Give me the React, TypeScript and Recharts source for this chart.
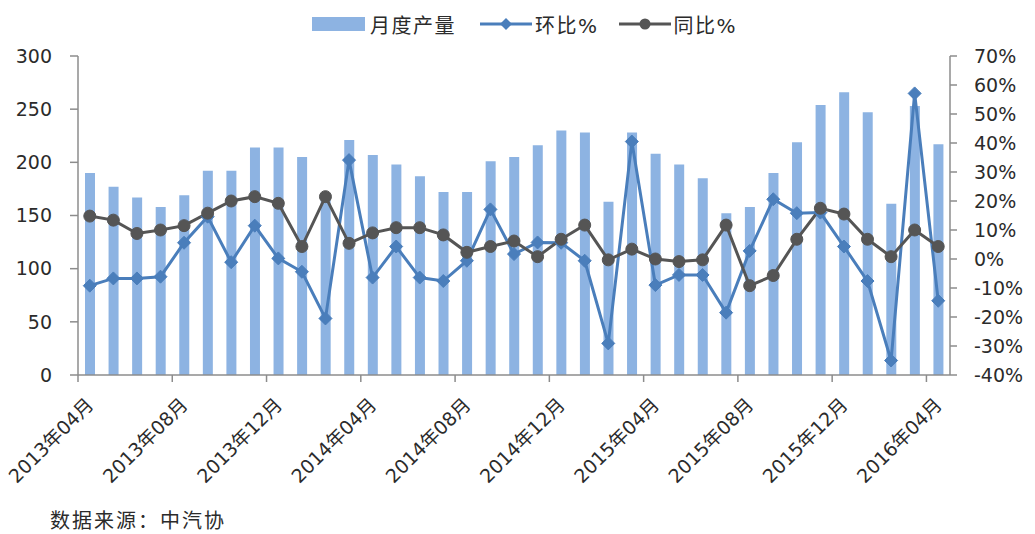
import { Bar, ComposedChart, Line, XAxis, YAxis } from "recharts";

const months = [
  "2013年04月", "2013年05月", "2013年06月", "2013年07月", "2013年08月", "2013年09月",
  "2013年10月", "2013年11月", "2013年12月", "2014年01月", "2014年02月", "2014年03月",
  "2014年04月", "2014年05月", "2014年06月", "2014年07月", "2014年08月", "2014年09月",
  "2014年10月", "2014年11月", "2014年12月", "2015年01月", "2015年02月", "2015年03月",
  "2015年04月", "2015年05月", "2015年06月", "2015年07月", "2015年08月", "2015年09月",
  "2015年10月", "2015年11月", "2015年12月", "2016年01月", "2016年02月", "2016年03月",
  "2016年04月",
];

// 月度产量 (万辆)
const output = [
  190, 177, 167, 158, 169, 192, 192, 214, 214, 205, 165, 221,
  207, 198, 187, 172, 172, 201, 205, 216, 230, 228, 163, 228,
  208, 198, 185, 152, 158, 190, 219, 254, 266, 247, 161, 253,
  217,
];

// 环比%
const mom = [
  -9.2, -6.7, -6.7, -6.1, 5.6, 14.6, -1.1, 11.5, 0.2, -4.4, -20.5, 34.1,
  -6.4, 4.3, -6.4, -7.6, -0.6, 17.1, 1.7, 5.7, 5.6, -0.6, -29.1, 40.5,
  -9.0, -5.5, -5.5, -18.5, 2.8, 20.6, 15.8, 16.0, 4.3, -7.6, -35.0, 57.1,
  -14.4,
];

// 同比%
const yoy = [
  14.8, 13.4, 8.8, 10.0, 11.5, 15.8, 20.0, 21.5, 19.2, 4.3, 21.5, 5.4,
  9.0, 10.8, 10.8, 8.3, 2.3, 4.3, 6.2, 0.8, 6.8, 11.7, -0.3, 3.4,
  0.0, -0.9, -0.3, 11.7, -9.2, -5.7, 6.8, 17.5, 15.5, 6.8, 0.8, 10.0,
  4.3,
];

const leftTicks = [0, 50, 100, 150, 200, 250, 300];
const rightTicks = [-40, -30, -20, -10, 0, 10, 20, 30, 40, 50, 60, 70];

const data = months.map((m, i) => ({ month: m, output: output[i], mom: mom[i], yoy: yoy[i] }));

const FONT = '"DejaVu Sans", "Noto Sans CJK SC", sans-serif';
const TEXT = "#2b2b2b";
const AXIS = "#8c8c8c";
const BAR = "#8db3e2";
const BLUE = "#4a7ebb";
const GREY = "#555555";

const PLOT_LEFT = 78;
const PLOT_RIGHT = 950;
const BAND = (PLOT_RIGHT - PLOT_LEFT) / months.length;

const XTick = (props: any) => {
  const { x, y, payload } = props;
  const bx = x - BAND / 2;
  return (
    <g>
      <line x1={bx} x2={bx} y1={y - 8} y2={y - 1} stroke={AXIS} strokeWidth={1.5} />
      <text
        transform={`translate(${x + 5},${y + 23}) rotate(-45)`}
        textAnchor="end"
        fontSize={19}
        fill={TEXT}
        fontFamily={FONT}
      >
        {payload.value}
      </text>
    </g>
  );
};

const Diamond = (props: any) => {
  const { cx, cy } = props;
  if (cx == null || cy == null) return null;
  const s = 6.5;
  return (
    <polygon
      points={`${cx},${cy - s} ${cx + s},${cy} ${cx},${cy + s} ${cx - s},${cy}`}
      fill={BLUE}
      stroke={BLUE}
    />
  );
};

const Dot = (props: any) => {
  const { cx, cy } = props;
  if (cx == null || cy == null) return null;
  return <circle cx={cx} cy={cy} r={6} fill={GREY} stroke={GREY} />;
};

export default function App() {
  return (
    <div
      style={{
        position: "absolute",
        left: 0,
        top: 0,
        width: 1035,
        height: 534,
        background: "#fff",
        fontFamily: FONT,
        color: TEXT,
      }}
    >
      {/* legend */}
      <div
        style={{
          position: "absolute",
          top: 12,
          left: 312,
          height: 24,
          display: "flex",
          alignItems: "center",
          fontSize: 20,
          letterSpacing: 1.5,
        }}
      >
        <span style={{ display: "inline-block", width: 53, height: 14, background: BAR, marginRight: 5 }} />
        <span>月度产量</span>
        <svg width={52} height={16} style={{ marginLeft: 24 }}>
          <line x1={0} x2={52} y1={8} y2={8} stroke={BLUE} strokeWidth={3} />
          <polygon points="26,2 32,8 26,14 20,8" fill={BLUE} />
        </svg>
        <span style={{ marginLeft: 3 }}>环比%</span>
        <svg width={52} height={16} style={{ marginLeft: 20 }}>
          <line x1={0} x2={52} y1={8} y2={8} stroke={GREY} strokeWidth={3} />
          <circle cx={26} cy={8} r={5.5} fill={GREY} />
        </svg>
        <span style={{ marginLeft: 3 }}>同比%</span>
      </div>

      <ComposedChart
        width={1035}
        height={534}
        data={data}
        margin={{ top: 56, right: 0, bottom: 49, left: 0 }}
        barCategoryGap={0}
      >
        <XAxis
          dataKey="month"
          interval={3}
          height={110}
          tickLine={false}
          tickSize={6}
          tick={<XTick />}
          stroke={AXIS}
          strokeWidth={1.5}
        />
        <YAxis
          yAxisId="left"
          orientation="left"
          width={78}
          domain={[0, 300]}
          ticks={leftTicks}
          tickSize={8}
          tickMargin={18}
          stroke={AXIS}
          strokeWidth={1.5}
          tick={{ fontSize: 19, fill: TEXT, fontFamily: FONT }}
          interval={0}
        />
        <YAxis
          yAxisId="right"
          orientation="right"
          width={85}
          domain={[-40, 70]}
          ticks={rightTicks}
          tickSize={7}
          tickMargin={17}
          stroke={AXIS}
          strokeWidth={1.5}
          tickFormatter={(v) => `${v}%`}
          tick={{ fontSize: 19, fill: TEXT, fontFamily: FONT, textAnchor: "start" }}
          interval={0}
        />
        <Bar yAxisId="left" dataKey="output" name="月度产量" fill={BAR} barSize={10} isAnimationActive={false} />
        <Line
          yAxisId="right"
          dataKey="mom"
          name="环比%"
          stroke={BLUE}
          strokeWidth={3}
          dot={<Diamond />}
          activeDot={false}
          isAnimationActive={false}
        />
        <Line
          yAxisId="right"
          dataKey="yoy"
          name="同比%"
          stroke={GREY}
          strokeWidth={3}
          dot={<Dot />}
          activeDot={false}
          isAnimationActive={false}
        />
      </ComposedChart>

      <div style={{ position: "absolute", left: 50, top: 505, fontSize: 20, letterSpacing: 2 }}>
        数据来源：中汽协
      </div>
    </div>
  );
}
